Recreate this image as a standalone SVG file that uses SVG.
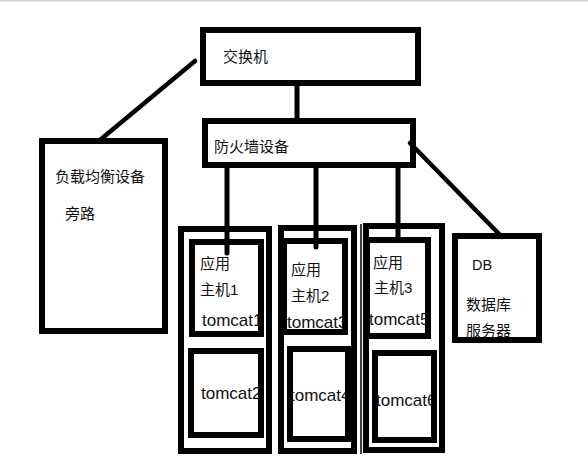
<svg xmlns="http://www.w3.org/2000/svg" width="588" height="460" viewBox="0 0 588 460">
<style>
.b{fill:none;stroke:#000;stroke-width:6}
.c{fill:none;stroke:#000;stroke-width:5;stroke-linecap:round}
.d{fill:none;stroke:#000;stroke-width:4.5;stroke-linecap:round}
.t{font-family:"Liberation Sans","Noto Sans CJK SC",sans-serif;font-size:15px;fill:#111}
.m{font-family:"Liberation Sans","Noto Sans CJK SC",sans-serif;font-size:17px;fill:#111}
</style>
<rect width="588" height="460" fill="#fff"/>
<rect x="0" y="0" width="588" height="1.5" fill="#cdd3da"/>
<g id="connectors">
<line class="c" x1="297" y1="86" x2="297" y2="120"/>
<line class="d" x1="195" y1="61" x2="100" y2="140"/>
<line class="d" x1="410" y1="143" x2="502" y2="237"/>
<line class="c" x1="227" y1="168" x2="227" y2="253"/>
<line class="c" x1="316" y1="168" x2="316" y2="247"/>
<line class="c" x1="398" y1="168" x2="398" y2="240"/>
</g>
<g id="switch">
<text class="t" x="223" y="61.5">交换机</text>
<rect class="b" x="203" y="30" width="215" height="53"/>
</g>
<g id="firewall">
<text class="t" x="214" y="151.5">防火墙设备</text>
<rect class="b" x="205" y="121" width="208" height="44"/>
</g>
<g id="loadbalancer">
<text class="t" x="55" y="181.5">负载均衡设备</text>
<text class="t" x="65" y="218.5">旁路</text>
<rect class="b" x="42" y="141" width="123" height="190"/>
</g>
<g id="db">
<text class="t" x="472" y="270" style="font-size:14.5px">DB</text>
<text class="t" x="466" y="309.5">数据库</text>
<text class="t" x="466" y="335.5">服务器</text>
<rect class="b" x="455" y="236" width="84" height="104"/>
</g>
<g id="host1">
<text class="t" x="200" y="268.5">应用</text>
<text class="t" x="200" y="294.5">主机1</text>
<text class="m" x="202" y="326">tomcat1</text>
<text class="m" x="201" y="399">tomcat2</text>
<rect class="b" x="181" y="229" width="88" height="222"/>
<rect class="b" x="192" y="242" width="69" height="92"/>
<rect class="b" x="191" y="351" width="70" height="84"/>
</g>
<g id="host2">
<text class="t" x="291" y="274.5">应用</text>
<text class="t" x="291" y="300.5">主机2</text>
<text class="m" x="287" y="328">tomcat3</text>
<text class="m" x="290" y="401">tomcat4</text>
<rect class="b" x="281" y="228" width="73" height="223"/>
<rect class="b" x="284" y="241" width="61" height="91"/>
<rect class="b" x="290" y="349" width="58" height="90"/>
</g>
<g id="host3">
<text class="t" x="373" y="267.5">应用</text>
<text class="t" x="374" y="292.5">主机3</text>
<text class="m" x="369" y="325">tomcat5</text>
<text class="m" x="376" y="406">tomcat6</text>
<rect class="b" x="366" y="226" width="76" height="224"/>
<line x1="361" y1="224" x2="361" y2="454" stroke="#000" stroke-width="1.5"/>
<rect class="b" x="367" y="240" width="61" height="96"/>
<rect class="b" x="375" y="353" width="59" height="87"/>
</g>
</svg>
